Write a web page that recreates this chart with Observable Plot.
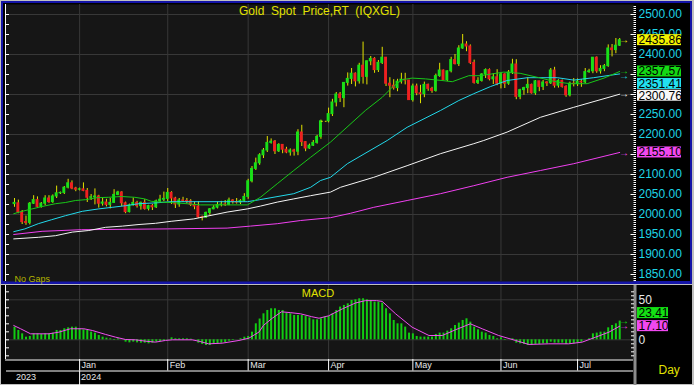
<!DOCTYPE html>
<html><head><meta charset="utf-8">
<script src="https://cdn.jsdelivr.net/npm/d3@7"></script>
<script src="https://cdn.jsdelivr.net/npm/@observablehq/plot@0.6"></script>
<style>
html,body{margin:0;padding:0;background:#c0c0c0;}
#wrap{position:relative;width:694px;height:385px;overflow:hidden;background:#c0c0c0;}
#wrap > div, #wrap > svg{position:absolute;}
svg text{white-space:pre;}
</style></head><body><div id="wrap"></div>
<script>
// ---- data ----
const open = [
2026,2028,2005,1981,1979,2027,2036,2019,2027,2040,
2031,2045,2053,2054,2067,2078,2065,2062,2063,2059,
2042,2043,2045,2027,2030,2024,2029,2049,2055,2028,
2006,2023,2029,2021,2029,2014,2021,2018,2033,2037,
2039,2054,2040,2025,2035,2034,2033,2024,2020,1993,
1992,2004,2013,2017,2024,2025,2024,2035,2031,2030,
2034,2044,2083,2114,2128,2148,2160,2179,2182,2158,
2174,2162,2155,2160,2157,2205,2181,2165,2172,2179,
2194,2233,2233,2251,2280,2300,2291,2329,2339,2352,
2333,2372,2344,2383,2389,2361,2379,2392,2327,2322,
2316,2332,2337,2335,2286,2320,2303,2301,2324,2314,
2309,2346,2360,2336,2358,2386,2376,2415,2425,2420,
2379,2329,2334,2350,2361,2338,2343,2327,2350,2327,
2355,2375,2294,2311,2316,2324,2303,2333,2319,2330,
2328,2360,2322,2334,2319,2298,2327,2326,2332,2330,
2356,2358,2392,2358,2364,2371,2415,2411,2422];
const high = [
2040,2036,2010,1996,2030,2047,2044,2030,2047,2047,
2049,2071,2056,2070,2088,2084,2068,2066,2079,2065,
2050,2064,2048,2040,2038,2040,2062,2058,2057,2031,
2026,2041,2033,2031,2037,2023,2025,2036,2048,2056,
2065,2057,2043,2040,2043,2040,2037,2031,2032,1996,
2006,2015,2022,2031,2033,2035,2041,2037,2040,2037,
2052,2088,2120,2141,2152,2165,2195,2189,2185,2177,
2175,2168,2164,2163,2212,2223,2182,2176,2185,2198,
2236,2233,2266,2288,2305,2305,2330,2354,2365,2354,
2378,2431,2384,2395,2392,2385,2418,2392,2342,2337,
2338,2353,2353,2335,2326,2326,2323,2331,2326,2318,
2351,2378,2361,2359,2393,2400,2422,2450,2432,2424,
2386,2342,2352,2364,2364,2352,2362,2354,2352,2360,
2388,2387,2313,2318,2342,2326,2335,2333,2335,2332,
2365,2368,2337,2336,2322,2331,2340,2339,2337,2365,
2363,2392,2394,2372,2375,2424,2425,2440,2440];
const low = [
2018,2002,1975,1973,1974,2025,2015,2016,2022,2028,
2028,2040,2050,2050,2064,2062,2057,2059,2057,2030,
2035,2024,2016,2021,2019,2014,2028,2047,2020,2002,
2004,2021,2016,2011,2011,2009,2010,2015,2030,2032,
2032,2025,2015,2018,2030,2027,2020,2012,1990,1984,
1990,1998,2012,2014,2019,2020,2022,2026,2026,2025,
2031,2038,2079,2110,2123,2140,2155,2176,2150,2155,
2152,2152,2146,2146,2147,2170,2157,2163,2170,2176,
2188,2233,2229,2245,2269,2280,2267,2321,2325,2319,
2326,2326,2324,2372,2353,2355,2375,2320,2292,2311,
2307,2326,2324,2285,2281,2297,2277,2292,2308,2303,
2306,2343,2335,2332,2354,2374,2370,2413,2407,2375,
2326,2325,2331,2340,2334,2325,2322,2314,2315,2323,
2350,2287,2287,2298,2302,2301,2298,2307,2310,2320,
2325,2316,2316,2316,2293,2294,2319,2320,2318,2327,
2353,2352,2353,2351,2357,2368,2394,2402,2420];
const close = [
2029,2005,1981,1979,2027,2036,2019,2027,2040,2031,
2045,2053,2054,2067,2078,2065,2062,2063,2059,2042,
2043,2045,2027,2030,2024,2029,2049,2055,2028,2006,
2023,2029,2021,2029,2014,2021,2018,2033,2037,2039,
2054,2040,2025,2035,2034,2033,2024,2020,1993,1992,
2004,2013,2017,2024,2025,2024,2035,2031,2030,2034,
2044,2083,2114,2128,2148,2160,2179,2182,2158,2174,
2162,2155,2160,2157,2205,2181,2165,2172,2179,2194,
2233,2233,2251,2280,2300,2291,2329,2339,2352,2333,
2372,2344,2383,2389,2361,2379,2392,2327,2322,2316,
2332,2337,2335,2286,2320,2303,2301,2324,2314,2309,
2346,2360,2336,2358,2386,2376,2415,2425,2420,2379,
2329,2334,2350,2361,2338,2343,2327,2350,2327,2355,
2375,2294,2311,2316,2324,2303,2333,2319,2330,2328,
2360,2322,2334,2319,2298,2327,2326,2332,2330,2356,
2358,2392,2358,2364,2371,2415,2411,2422,2435.86];

// moving averages: [day index, value]
const maGreen = [[-0.2,2002],[2,2008],[4.6,2014],[7.2,2020],[10.7,2027],[13.3,2030],[15.9,2035],[18.5,2037],[21.5,2042],[24.5,2043],[27.9,2045],[31.4,2043],[34,2039],[35.7,2033],[38.3,2031],[42.4,2029],[48.6,2024],[60.8,2024],[64.2,2043],[68.6,2077],[72.9,2110],[77.3,2143],[82.5,2181],[91.6,2260],[96,2293],[98.6,2318],[101.2,2337],[103.8,2341],[107.3,2339],[111.6,2335],[114.3,2332],[118.6,2347],[121.7,2347],[127.7,2356],[132,2353],[136.5,2343],[141.7,2331],[145.2,2327],[149.5,2327],[153.9,2341],[158,2357.57]];
const maCyan = [[-0.2,1957],[2.7,1964],[6.2,1977],[9.7,1987],[13.3,1997],[17.7,2008],[22,2014],[25.5,2018],[29,2022],[32.5,2027],[36.8,2029],[40.9,2032],[60.8,2032],[64,2037],[72.9,2052],[77.3,2068],[79.9,2085],[82.5,2093],[86.9,2127],[97.3,2185],[102.5,2218],[111.2,2260],[116,2285],[119.9,2302],[124.3,2320],[128.6,2335],[133.9,2342],[141.7,2342],[146,2336],[151.2,2342],[154.7,2347],[158,2351.41]];
const maWhite = [[-0.2,1939],[6.2,1943],[10.7,1947],[15.1,1956],[19.4,1960],[23.8,1968],[28.2,1971],[32.5,1975],[36.8,1978],[40.9,1983],[46.8,1989],[55.5,2006],[60.8,2014],[64.2,2021],[68.6,2031],[72.9,2039],[77.3,2047],[82.5,2056],[85.1,2068],[93.8,2093],[102.5,2122],[111.2,2152],[119.9,2177],[122.5,2185],[128.6,2206],[137.3,2243],[146,2268],[158,2300.76]];
const maMagenta = [[-0.2,1950],[7.2,1958],[17.5,1962],[40,1964],[55.5,1966],[61.6,1971],[68.6,1977],[74.7,1985],[82.5,1992],[87.7,2003],[93.8,2018],[102.5,2035],[111.2,2052],[119.9,2072],[128.6,2093],[137.3,2110],[146,2127],[158,2155.10]];

const macd = [
15.8,11.7,7.5,3.3,4.2,7.5,7.5,6.7,7.5,7.5,
8.3,11.7,11.7,13.8,15,15.8,15.8,13.8,12.5,11.7,
9.6,8.3,5.4,3.3,2.1,1.3,-0.8,1.3,0,-2.9,
-3.8,-2.9,-3.8,-4.2,-4.2,-5,-4.2,-2.9,-2.1,-1.7,
0.4,2.5,1.3,1.3,1.3,1.3,0.8,0,-4.2,-5.8,
-7.1,-7.1,-5.8,-5,-4.2,-3.3,-1.7,-0.8,0,1.3,
3.3,4.2,9.6,20,26,32.5,36.7,38.8,38.8,36.7,
36.7,33.3,32.5,30.4,30.4,30.4,29.2,27.5,25,25,
26.3,28.4,29.2,32.5,36.7,40.9,43,45,49.2,50,
51.3,51.3,50,49.2,47.1,47.1,45.9,38.8,32.5,24.2,
20,20,15.9,8.4,7.5,4.2,3.4,3.4,3.4,3.4,
6.7,8.4,8.4,10.9,13.8,17.9,20.9,24.2,26.3,22.1,
15.9,12.5,9.6,8.4,5.4,4.2,1.3,2.5,-0.8,0,
1.3,-4.2,-5,-5.8,-7.1,-7.1,-5.8,-5.8,-5,-5,
-2.9,-4.2,-4.2,-4.2,-5.8,-5,-5,-4.2,-2.9,0,
1.3,7.5,8.4,9.6,9.6,15,17.9,20,23.41];
const signal = [[-0.2,17.9],[1.6,13.8],[4.2,7.5],[9,7.5],[11.6,9.6],[14.6,13.8],[18.1,13.8],[20.3,11.7],[23.8,6.7],[26.4,3.3],[29,0.4],[31.6,0],[34.2,-1.7],[36.8,-2.9],[39.4,-0.8],[41.2,0],[46.4,0],[48.1,-1.7],[50.7,-5],[54.2,-4.2],[58.6,-0.8],[61.2,2.1],[63.8,9.6],[65,18],[67.3,27],[69.7,35],[72,34],[74.7,32.5],[77.5,29],[79.5,27],[82,30],[85.6,38.7],[89,46],[91.6,49],[94.5,49],[96,48],[99.5,32.5],[103.8,15.8],[108.2,5.4],[111.7,5.4],[115.1,12.5],[119,20],[122.1,13.8],[126.4,5.4],[130.8,-0.8],[134.3,-5.8],[139.5,-5],[144.7,-5],[148.2,-2.9],[151.7,3.3],[155.2,9.6],[158,17.10]];

const monthIdx = [17,40,61,82,104,127,147];
const monthLabels = ["Jan","Feb","Mar","Apr","May","Jun","Jul"];
const yearIdx = [0,17];
const yearLabels = ["2023","2024"];
const priceTicks = [1850,1900,1950,2000,2050,2100,2150,2200,2250,2300,2350,2400,2450,2500];
const macdTicks = [0,50];
const lastPrice = [
  {v:2435.86, fill:"#f2f200", dy:0},
  {v:2357.57, fill:"#14d814", dy:0},
  {v:2351.41, fill:"#22e0f0", dy:10},
  {v:2300.76, fill:"#f8f8f8", dy:1.5},
  {v:2155.10, fill:"#f048f0", dy:0}];
const lastMacd = [
  {v:23.41, fill:"#14e014", dy:-8},
  {v:17.10, fill:"#f048f0", dy:0}];

// ---- layout helpers ----
const FONT = "'Liberation Sans', Arial, sans-serif";
const xDomain = [-2.35, 161.6];
const L = 5, R = 633;
const K = (R - L) / (xDomain[1] - xDomain[0]);
const xPx = px => xDomain[0] + (px - L) / K;
const fmt2 = d3.format(".2f");
const UP = "#18e018", DOWN = "#ee2020", WICK = "#e2e200";
const PX_PER_UNIT = 0.4; // main pane: 2.5 price units per pixel

const candles = close.map((c, i) => ({i, o: open[i], h: high[i], l: low[i], c}));
const real = candles.filter(d => d.h !== d.l);
const flat = candles.filter(d => d.h === d.l);
// tick labels hidden behind the last-value boxes (as in the reference)
const shownTicks = priceTicks.filter(t => !lastPrice.some(d => Math.abs((d.v - t) * PX_PER_UNIT - d.dy) < 5));

function valueLabels(list, halfUnits, x2px) {
  const marks = [];
  for (const d of list) {
    marks.push(Plot.rect([d], {x1: xPx(637), x2: xPx(x2px), y1: e => e.v - halfUnits, y2: e => e.v + halfUnits, fill: e => e.fill, dy: d.dy}));
    marks.push(Plot.text([d], {y: "v", text: e => fmt2(e.v), frameAnchor: "right", dx: 5, dy: d.dy, textAnchor: "start", fill: "#000", fontSize: 12}));
  }
  return marks;
}
function arrows(list, dys) {
  return list.map((d, k) => Plot.text([d], {y: "v", text: () => "\u2192", frameAnchor: "right", dx: -4.5, dy: dys[k], fill: e => e.fill, fontSize: 10}));
}

const wrap = document.getElementById("wrap");
function addDiv(l, t, w, h, bg) {
  const d = document.createElement("div");
  Object.assign(d.style, {left: l + "px", top: t + "px", width: w + "px", height: h + "px", background: bg});
  wrap.appendChild(d);
}
addDiv(1, 1, 691, 283, "#1414a8");
addDiv(3, 3, 687, 278, "#000");
addDiv(1, 285, 691, 99, "#000");

const base = {
  width: 694, marginLeft: L, marginRight: 694 - R,
  x: {domain: xDomain, axis: null},
  color: {type: "identity"},
  style: {background: "transparent", fontFamily: FONT, overflow: "visible"}
};

// ---- main price pane ----
const main = Plot.plot({
  ...base, height: 283, marginTop: 4, marginBottom: 2,
  y: {domain: [1832.5, 2525], axis: null},
  marks: [
    Plot.frame({fill: "#161616"}),
    Plot.ruleY(d3.range(1900, 2501, 100), {stroke: "#383838"}),
    Plot.ruleX(monthIdx, {stroke: "#383838"}),
    Plot.ruleX([xDomain[0]], {stroke: "#fff"}),
    Plot.ruleY(d3.range(1850, 2525, 25), {x1: xDomain[0], x2: xPx(9), stroke: "#fff"}),
    Plot.ruleY(d3.range(1835, 2525, 5), {x1: xPx(633.5), x2: xPx(636), stroke: "#fff"}),
    Plot.ruleY(priceTicks, {x1: xPx(630.5), x2: xPx(636), stroke: "#fff"}),
    Plot.text(shownTicks, {y: d => d, text: fmt2, frameAnchor: "right", dx: 5, textAnchor: "start", fill: "#1ed4e6", fontSize: 12}),
    Plot.ruleX(real, {x: "i", y1: "l", y2: "h", stroke: WICK}),
    Plot.rect(real, {x1: d => d.i - 0.38, x2: d => d.i + 0.38, y1: d => Math.min(d.o, d.c), y2: d => Math.max(d.o, d.c), fill: d => d.c >= d.o ? UP : DOWN, insetTop: -0.5, insetBottom: -0.5}),
    Plot.ruleY(flat, {y: "c", x1: d => d.i - 0.9, x2: d => d.i + 0.6, stroke: WICK, strokeDasharray: "2,2"}),
    Plot.line(maMagenta, {x: d => d[0], y: d => d[1], stroke: "#f040f0", strokeWidth: 1}),
    Plot.line(maWhite, {x: d => d[0], y: d => d[1], stroke: "#f4f4f4", strokeWidth: 1}),
    Plot.line(maCyan, {x: d => d[0], y: d => d[1], stroke: "#22d8ea", strokeWidth: 1}),
    Plot.line(maGreen, {x: d => d[0], y: d => d[1], stroke: "#18c818", strokeWidth: 1}),
    Plot.text(["Gold  Spot  Price,RT  (IQXGL)"], {frameAnchor: "top", dy: 2, fill: "#e2e200", fontSize: 12}),
    Plot.text(["No Gaps"], {frameAnchor: "bottom-left", dx: 9, dy: 0, fill: "#b4b400", fontSize: 9}),
    ...arrows(lastPrice, [0, -1, 1.5, 0, 0]),
    ...valueLabels(lastPrice, 13.75, 681)
  ]
});
main.style.left = "0px"; main.style.top = "0px";
wrap.appendChild(main);

// ---- MACD pane ----
const macdPlot = Plot.plot({
  ...base, height: 75, marginTop: 0, marginBottom: 1,
  y: {domain: [-24.6, 67.9], axis: null},
  marks: [
    Plot.frame({fill: "#151515"}),
    Plot.ruleY([0, 50], {stroke: "#383838"}),
    Plot.ruleX(monthIdx, {stroke: "#383838"}),
    Plot.ruleX([xDomain[0]], {stroke: "#fff"}),
    Plot.ruleY(d3.range(-20, 61, 10), {x1: xDomain[0], x2: xPx(9), stroke: "#fff"}),
    Plot.ruleX([xPx(634.5)], {stroke: "#8c8c8c", strokeWidth: 3}),
    Plot.ruleY(d3.range(-20, 61, 5), {x1: xPx(631), x2: xPx(634), stroke: "#fff"}),
    Plot.text(macdTicks, {y: d => d, text: d => String(d), frameAnchor: "right", dx: 5, textAnchor: "start", fill: "#e8e8e8", fontSize: 12}),
    Plot.ruleX(macd, {x: (d, i) => i, y1: 0, y2: d => d, stroke: "#12cc12", strokeWidth: 2}),
    Plot.line(signal, {x: d => d[0], y: d => d[1], stroke: "#f050f0", strokeWidth: 1}),
    Plot.text(["MACD"], {frameAnchor: "top", dx: -1.5, dy: 4, fill: "#e2e200", fontSize: 11}),
    ...arrows(lastMacd, [0, 0]),
    ...valueLabels(lastMacd, 6.9, 668)
  ]
});
macdPlot.style.left = "0px"; macdPlot.style.top = "285px";
wrap.appendChild(macdPlot);

// ---- date axis pane ----
const datePlot = Plot.plot({
  ...base, height: 26, marginTop: 0, marginBottom: 0,
  y: {domain: [26, 0], axis: null},
  marks: [
    Plot.ruleY([0.5], {x1: xDomain[0], x2: xPx(633), stroke: "#fff"}),
    Plot.ruleY([11.5], {x1: xPx(6), x2: xPx(633), stroke: "#fff"}),
    Plot.ruleX(monthIdx, {y1: 0, y2: 11.5, stroke: "#fff"}),
    Plot.text(monthLabels, {x: (d, i) => monthIdx[i], y: 6, dx: 2, textAnchor: "start", fill: "#e8e8e8", fontSize: 9}),
    Plot.ruleX([yearIdx[1]], {y1: 11.5, y2: 26, stroke: "#fff"}),
    Plot.text(yearLabels, {x: (d, i) => yearIdx[i], y: 18, dx: 1.5, textAnchor: "start", fill: "#e8e8e8", fontSize: 9}),
    Plot.ruleX([xPx(634.5)], {stroke: "#8c8c8c", strokeWidth: 3}),
    Plot.text(["Day"], {frameAnchor: "right", y: 11, dx: 25, textAnchor: "start", fill: "#e2e200", fontSize: 12})
  ]
});
datePlot.style.left = "0px"; datePlot.style.top = "359px";
wrap.appendChild(datePlot);
</script></body></html>
